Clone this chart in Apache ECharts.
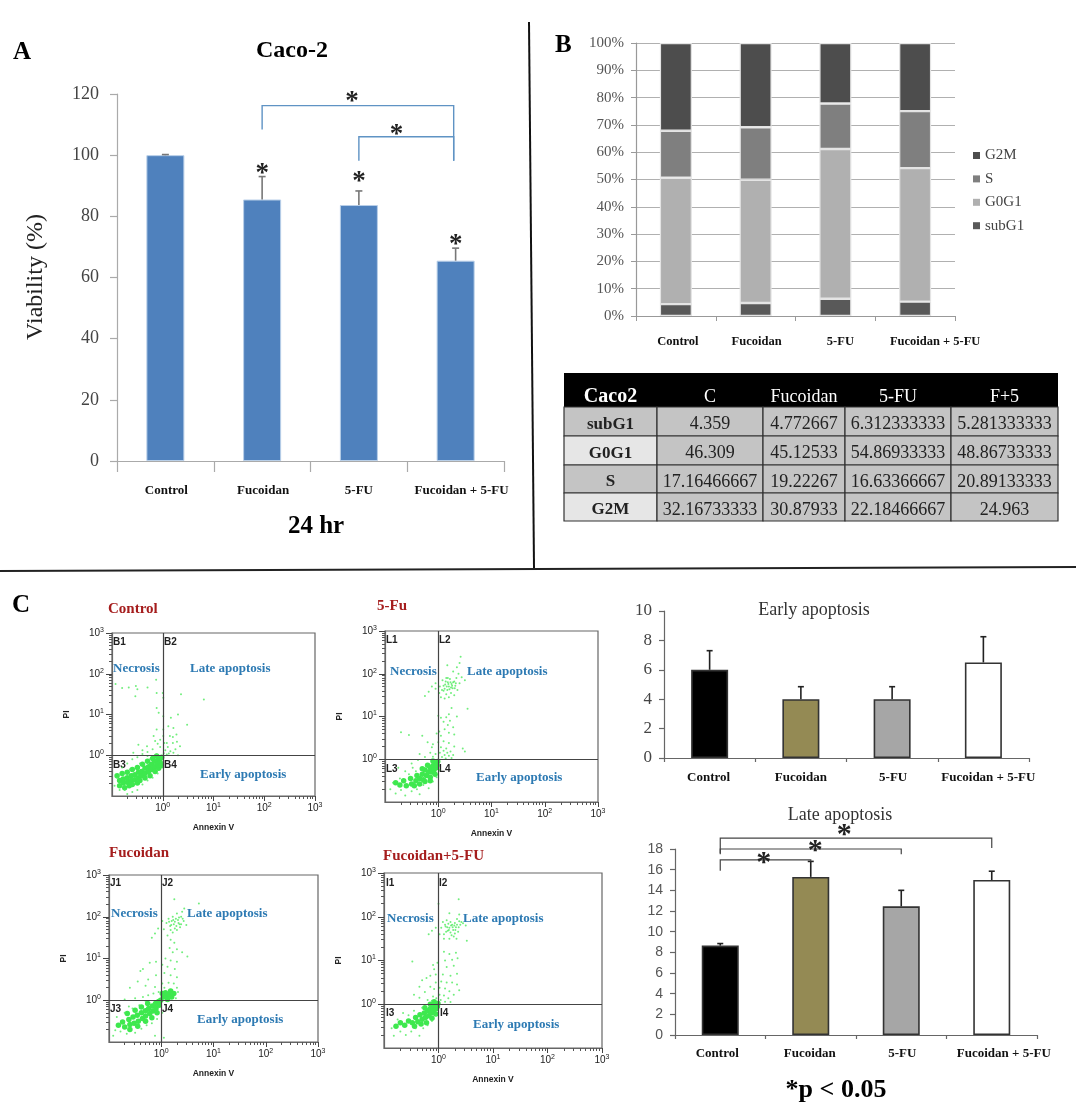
<!DOCTYPE html>
<html><head><meta charset="utf-8">
<style>html,body{margin:0;padding:0;background:#fff}#c{width:1076px;height:1114px}</style>
<script src="https://cdn.jsdelivr.net/npm/echarts@6/dist/echarts.min.js"></script>
</head><body><div id="c"></div>
<script>
// ---------- data ----------
const categories = ['Control', 'Fucoidan', '5-FU', 'Fucoidan + 5-FU'];
const viability = [100, 85.5, 83.7, 65.5];
const viabilityErrTop = [100.2, 93, 88.3, 69.6];
const earlyApoptosis = [6, 4, 4, 6.5];
const earlyErrTop = [7.3, 4.85, 4.85, 8.25];
const lateApoptosis = [8.65, 15.3, 12.45, 15];
const lateErrTop = [8.85, 16.8, 14, 15.85];
const subG1 = [4.359, 4.772667, 6.312333333, 5.281333333];
const G0G1 = [46.309, 45.12533, 54.86933333, 48.86733333];
const S = [17.16466667, 19.22267, 16.63366667, 20.89133333];
const G2M = [32.16733333, 30.87933, 22.18466667, 24.963];
const tableHead = ['Caco2', 'C', 'Fucoidan', '5-FU', 'F+5'];
const facsDecades = [0, 1, 2, 3];

const controlCore = [[-0.85,-0.62],[-0.78,-0.58],[-0.78,-0.68],[-0.7,-0.55],[-0.7,-0.66],[-0.62,-0.5],[-0.62,-0.62],[-0.55,-0.48],[-0.55,-0.6],[-0.48,-0.42],[-0.48,-0.55],[-0.42,-0.4],[-0.42,-0.5],[-0.35,-0.32],[-0.35,-0.45],[-0.28,-0.28],[-0.28,-0.4],[-0.22,-0.22],[-0.22,-0.35],[-0.16,-0.15],[-0.16,-0.28],[-0.1,-0.12],[-0.1,-0.22],[-0.05,-0.08],[-0.05,-0.18],[-0.02,-0.05],[-0.66,-0.75],[-0.5,-0.68],[-0.9,-0.5],[-0.8,-0.45],[-0.7,-0.42],[-0.6,-0.35],[-0.5,-0.3],[-0.4,-0.22],[-0.3,-0.15],[-0.2,-0.08],[-0.12,-0.02],[-0.85,-0.75],[-0.75,-0.8],[-0.6,-0.72],[-0.45,-0.62],[-0.35,-0.56],[-0.25,-0.5],[-0.15,-0.4],[-0.08,-0.32],[-0.03,-0.25]];
const controlDots = [[-0.93,1.75],[-0.8,1.65],[-0.67,1.66],[-0.53,1.7],[-0.5,1.62],[-0.54,1.45],[-0.3,1.66],[-0.13,1.85],[-0.12,1.53],[0,1.53],[0.01,1.41],[0.36,1.5],[0.81,1.37],[-0.12,1.16],[-0.08,1.04],[0.01,0.96],[0.16,0.92],[0.3,1.0],[0.48,0.75],[0.11,0.71],[0.21,0.67],[0.27,0.51],[0.01,0.63],[-0.12,0.63],[-0.18,0.47],[-0.48,0.26],[-0.58,0.06],[-0.31,0.22],[0.01,0.47],[0.14,0.47],[0.08,0.3],[0.21,0.06],[0.34,0.22],[0.2,0.3],[0.1,0.2],[0.05,0.12],[0.15,0.1],[0.25,0.15],[0.12,0.04],[0.3,0.0],[-0.05,0.2],[-0.1,0.28],[-0.2,0.15],[-0.3,0.08],[-0.4,0.12],[-0.15,0.35],[-0.05,0.38],[0.03,0.3],[0.2,0.45],[0.28,0.33],[-0.95,-0.75],[-0.9,-0.55],[-0.85,-0.85],[-0.75,-0.85],[-0.7,-0.95],[-0.6,-0.9],[-0.5,-0.85],[-0.4,-0.72],[-0.3,-0.62],[-0.2,-0.55],[-0.1,-0.45],[0,-0.3],[-0.8,-0.3],[-0.7,-0.2],[-0.6,-0.1],[-0.5,-0.05],[-0.4,0.03],[-0.3,-0.02],[-0.65,-0.35],[-0.45,-0.2],[-0.25,-0.1],[-0.12,0.02],[0.02,0.05],[0.08,0.02]];

const fuCore = [[-0.8,-0.55],[-0.72,-0.6],[-0.65,-0.5],[-0.6,-0.62],[-0.52,-0.45],[-0.5,-0.58],[-0.42,-0.5],[-0.4,-0.38],[-0.35,-0.45],[-0.3,-0.35],[-0.28,-0.48],[-0.25,-0.25],[-0.22,-0.38],[-0.18,-0.3],[-0.15,-0.2],[-0.15,-0.42],[-0.12,-0.3],[-0.1,-0.15],[-0.08,-0.25],[-0.05,-0.1],[-0.04,-0.2],[-0.01,-0.05],[-0.02,-0.14],[-0.3,-0.22],[-0.2,-0.14],[-0.1,-0.04],[-0.25,-0.52],[-0.15,-0.5],[-0.06,-0.35],[-0.45,-0.62],[-0.35,-0.58]];
const fuDots = [[0.03,1.7],[0.08,1.85],[0.1,1.6],[0.13,1.75],[0.15,1.9],[0.17,1.62],[0.18,1.8],[0.2,1.7],[0.22,1.88],[0.24,1.55],[0.25,1.76],[0.27,1.66],[0.3,1.82],[0.32,1.72],[0.34,1.9],[0.36,1.62],[0.38,2.0],[0.4,1.78],[0.44,1.92],[0.5,1.85],[0.35,2.15],[0.17,2.2],[0.4,2.25],[0.42,2.4],[0.28,2.05],[-0.05,1.65],[-0.12,1.7],[-0.18,1.58],[-0.25,1.48],[-0.05,1.78],[0.02,1.55],[0.05,1.45],[0.12,1.42],[0.2,1.45],[0.3,1.5],[0.55,1.18],[0.25,1.2],[0.2,1.05],[0.35,1.0],[0.15,0.98],[0.05,0.97],[0.0,1.02],[0.22,0.9],[0.1,0.88],[0.18,0.8],[0.28,0.75],[0.12,0.7],[0.02,0.65],[-0.03,0.6],[0.05,0.55],[0.2,0.62],[0.3,0.58],[-0.3,0.55],[-0.55,0.57],[-0.7,0.63],[-0.2,0.4],[-0.1,0.35],[-0.12,0.28],[0.0,0.4],[0.1,0.42],[0.2,0.38],[0.3,0.3],[0.46,0.25],[0.5,0.18],[0.03,0.15],[0.07,0.05],[0.1,0.2],[0.12,0.1],[0.14,0.02],[0.17,0.15],[0.2,0.08],[0.23,0.18],[0.25,0.03],[0.28,0.1],[0.05,0.28],[0.15,0.25],[-0.05,0.12],[-0.1,0.06],[-0.15,0.15],[-0.25,0.05],[-0.35,0.12],[-0.9,-0.7],[-0.85,-0.55],[-0.8,-0.8],[-0.72,-0.45],[-0.7,-0.72],[-0.62,-0.85],[-0.55,-0.35],[-0.5,-0.75],[-0.42,-0.28],[-0.4,-0.7],[-0.35,-0.82],[-0.28,-0.6],[-0.18,-0.68],[-0.1,-0.52],[-0.03,-0.42],[0.02,-0.25],[-0.75,-0.2],[-0.5,-0.1],[-0.38,-0.02],[-0.62,-0.28],[-0.48,-0.2],[0.1,1.72],[0.14,1.82],[0.16,1.7],[0.19,1.76],[0.21,1.64],[0.23,1.8],[0.26,1.72],[0.28,1.8],[0.31,1.66],[0.33,1.78],[0.12,1.65],[0.07,1.62],[0.18,1.9],[0.24,1.68],[0.15,1.52]];

const fucoidanCore = [[-0.82,-0.6],[-0.74,-0.52],[-0.7,-0.64],[-0.62,-0.46],[-0.6,-0.58],[-0.54,-0.4],[-0.52,-0.55],[-0.46,-0.36],[-0.44,-0.5],[-0.38,-0.3],[-0.36,-0.44],[-0.3,-0.25],[-0.3,-0.38],[-0.24,-0.2],[-0.22,-0.32],[-0.17,-0.14],[-0.16,-0.26],[-0.11,-0.08],[-0.1,-0.2],[-0.05,-0.03],[-0.04,-0.12],[-0.01,0.0],[0.04,0.08],[0.1,0.1],[0.15,0.14],[0.2,0.08],[0.24,0.16],[0.08,0.18],[0.18,0.22],[-0.65,-0.32],[-0.5,-0.24],[-0.38,-0.16],[-0.26,-0.08],[-0.6,-0.7],[-0.45,-0.62],[-0.3,-0.5],[-0.18,-0.42],[-0.08,-0.3],[0.12,0.02],[0.02,0.16]];
const fucoidanDots = [[0.1,1.85],[0.14,1.95],[0.17,1.78],[0.2,1.9],[0.22,2.0],[0.24,1.82],[0.26,1.72],[0.28,1.95],[0.3,2.08],[0.33,1.85],[0.36,1.75],[0.38,2.0],[0.4,2.12],[0.43,1.9],[0.48,1.8],[0.44,2.2],[0.25,2.42],[0.72,2.32],[0.05,1.7],[0.02,1.9],[-0.06,1.72],[-0.12,1.6],[-0.18,1.5],[0.12,1.55],[0.18,1.45],[0.25,1.38],[0.3,1.22],[0.16,1.25],[0.22,1.15],[0.4,1.15],[0.5,1.05],[0.08,1.0],[0.18,0.95],[0.3,0.92],[-0.1,0.92],[-0.22,0.9],[-0.35,0.75],[-0.4,0.7],[0.02,0.85],[0.12,0.8],[0.26,0.75],[0.06,0.65],[0.18,0.6],[0.3,0.55],[-0.1,0.6],[-0.25,0.5],[-0.45,0.45],[-0.6,0.3],[-0.3,0.35],[-0.12,0.32],[0.02,0.4],[0.14,0.42],[0.24,0.4],[0.3,0.3],[0.32,0.2],[0.28,0.05],[0.06,0.3],[-0.05,0.2],[-0.15,0.16],[-0.25,0.12],[-0.35,0.08],[-0.5,0.05],[-0.7,0.02],[-0.88,-0.72],[-0.92,-0.85],[-0.85,-0.4],[-0.78,-0.75],[-0.7,-0.3],[-0.66,-0.8],[-0.55,-0.2],[-0.5,-0.78],[-0.42,-0.12],[-0.38,-0.68],[-0.28,-0.6],[-0.18,-0.55],[-0.08,-0.45],[0.02,-0.3],[-0.12,-0.85],[0.05,-0.9],[-0.62,-0.15],[-0.3,-0.02],[0.15,1.88],[0.19,1.8],[0.23,1.92],[0.26,1.88],[0.29,1.78],[0.32,1.92],[0.35,1.82],[0.18,1.68],[0.22,1.62],[0.3,1.68],[0.34,1.98],[0.38,1.82],[0.41,1.95]];

const comboCore = [[-0.78,-0.5],[-0.7,-0.42],[-0.62,-0.48],[-0.55,-0.38],[-0.48,-0.42],[-0.42,-0.3],[-0.38,-0.4],[-0.34,-0.24],[-0.3,-0.34],[-0.26,-0.2],[-0.24,-0.3],[-0.2,-0.15],[-0.18,-0.26],[-0.15,-0.1],[-0.13,-0.2],[-0.1,-0.06],[-0.09,-0.15],[-0.05,-0.02],[-0.04,-0.1],[-0.01,0.02],[-0.02,-0.05],[-0.25,-0.08],[-0.15,0.0],[-0.08,0.06],[-0.32,-0.45],[-0.22,-0.42],[-0.12,-0.32],[-0.05,-0.22],[-0.44,-0.5]];
const comboDots = [[0.05,1.75],[0.08,1.88],[0.1,1.6],[0.13,1.78],[0.15,1.92],[0.17,1.68],[0.18,1.84],[0.2,1.75],[0.22,1.88],[0.24,1.58],[0.25,1.82],[0.27,1.7],[0.3,1.86],[0.32,1.76],[0.34,1.95],[0.36,1.66],[0.38,1.9],[0.4,1.82],[0.45,1.85],[0.5,1.8],[0.38,2.05],[0.2,2.08],[0.37,2.4],[0.0,2.3],[-0.05,1.75],[-0.12,1.68],[-0.18,1.6],[0.02,1.6],[0.28,1.55],[0.33,1.5],[0.52,1.45],[0.1,1.2],[0.2,1.15],[0.32,1.18],[0.35,1.05],[0.25,1.02],[0.12,1.0],[-0.02,0.95],[-0.1,0.9],[-0.08,0.8],[0.15,0.85],[0.28,0.88],[0.34,0.7],[0.22,0.65],[0.08,0.68],[-0.05,0.68],[-0.15,0.65],[-0.22,0.6],[-0.3,0.55],[-0.35,0.4],[-0.48,0.98],[-0.05,0.5],[0.05,0.52],[0.15,0.5],[0.25,0.5],[0.34,0.45],[0.38,0.32],[-0.15,0.4],[-0.08,0.35],[0.02,0.38],[0.12,0.36],[0.2,0.3],[0.28,0.22],[-0.25,0.28],[-0.35,0.15],[-0.45,0.22],[0.02,0.22],[0.1,0.2],[0.18,0.14],[0.04,0.1],[0.12,0.06],[0.22,0.05],[-0.04,0.14],[-0.1,0.18],[-0.12,0.08],[-0.2,0.1],[-0.86,-0.55],[-0.82,-0.72],[-0.75,-0.35],[-0.7,-0.62],[-0.6,-0.7],[-0.55,-0.25],[-0.5,-0.62],[-0.45,-0.15],[-0.42,-0.55],[-0.35,-0.72],[-0.3,-0.08],[-0.28,-0.55],[-0.2,-0.48],[-0.12,-0.38],[-0.04,-0.25],[-0.65,-0.2],[0.12,1.82],[0.16,1.76],[0.19,1.7],[0.23,1.8],[0.26,1.76],[0.29,1.8],[0.31,1.7],[0.34,1.82],[0.37,1.76],[0.42,1.88],[0.14,1.66],[0.22,1.64],[0.3,1.62],[0.1,1.5],[0.2,1.5]];

// ---------- fonts / layout ----------
const serifName = 'Liberation Serif', sansName = 'Liberation Sans';
const serif = '"Liberation Serif", serif', sans = '"Liberation Sans", sans-serif';
const fs = (family, size, weight) => ({fontFamily: family, fontSize: size, fontWeight: weight || 'normal'});
const axisLine = c => ({show: true, onZero: false, lineStyle: {color: c, width: 1.2}});
const grids = [], xAxes = [], yAxes = [], series = [], graphics = [];

function text(x, y, t, font, fill, align, rotation) {
  graphics.push({type: 'text', x, y, rotation: rotation || 0, silent: true,
    style: {text: t, font, fill: fill || '#000', align: align || 'left', verticalAlign: 'middle'}});
}
function line(x1, y1, x2, y2, w, c) {
  graphics.push({type: 'line', silent: true, shape: {x1, y1, x2, y2}, style: {stroke: c || '#111', lineWidth: w}});
}
function addGrid(box) {
  grids.push({left: box.l, top: box.t, width: box.r - box.l, height: box.b - box.t, show: !!box.frame,
    borderColor: box.frame || '#ccc', borderWidth: 1.2, backgroundColor: 'transparent'});
  return grids.length - 1;
}
// hidden value x axis running across the categories so annotations can sit between them
function overlayX(g) {
  xAxes.push({type: 'value', gridIndex: g, min: -0.5, max: 3.5, show: false});
  return xAxes.length - 1;
}
function errSeries(xi, yi, tops, bases, color, cap) {
  series.push({type: 'custom', xAxisIndex: xi, yAxisIndex: yi, z: 3, silent: true,
    data: tops.map((t, i) => [i, bases[i], t]),
    renderItem: (p, api) => {
      const a = api.coord([api.value(0), api.value(1)]), b = api.coord([api.value(0), api.value(2)]);
      const st = {stroke: color, lineWidth: 1.6, fill: 'none'};
      return {type: 'group', children: [
        {type: 'line', shape: {x1: a[0], y1: a[1], x2: b[0], y2: b[1]}, style: st},
        {type: 'line', shape: {x1: b[0] - cap, y1: b[1], x2: b[0] + cap, y2: b[1]}, style: st}]};
    }});
}
function bracketSeries(xi, yi, list, color, w) {
  series.push({type: 'custom', xAxisIndex: xi, yAxisIndex: yi, z: 4, silent: true, data: list,
    renderItem: (p, api) => {
      const l = api.value(0), r = api.value(1);
      const pts = [api.coord([l, api.value(2)]), api.coord([l, api.value(3)]), api.coord([r, api.value(3)]), api.coord([r, api.value(4)])];
      return {type: 'polyline', shape: {points: pts}, style: {stroke: color, lineWidth: w, fill: 'none'}};
    }});
}
function starSeries(xi, yi, list, size, color) {
  series.push({type: 'custom', xAxisIndex: xi, yAxisIndex: yi, z: 5, silent: true, data: list,
    renderItem: (p, api) => {
      const c = api.coord([api.value(0), api.value(1)]);
      return {type: 'text', style: {x: c[0], y: c[1] + size * 0.2, text: '*', fill: color,
        font: `bold ${size}px ${serif}`, align: 'center', verticalAlign: 'middle'}};
    }});
}
function shiftedLabels(shifts, size) {
  const rich = {};
  shifts.forEach((s, i) => {
    rich['s' + i] = Object.assign(fs(serifName, size, 'bold'), {color: '#111', padding: s >= 0 ? [0, 0, 0, 2 * s] : [0, -2 * s, 0, 0]});
  });
  return Object.assign(fs(serifName, size, 'bold'), {show: true, interval: 0, rich, hideOverlap: false,
    formatter: (v) => `{s${categories.indexOf(v)}|${v}}`});
}
function barChart(box, values, colors, opt) {
  const g = addGrid(box);
  xAxes.push({type: 'category', gridIndex: g, data: categories, position: 'bottom',
    axisLine: axisLine(opt.axisColor), axisTick: {show: true, length: opt.catTick, lineStyle: {color: opt.axisColor, width: 1.2}},
    axisLabel: Object.assign(shiftedLabels(opt.shifts, opt.catSize), {margin: opt.catMargin})});
  const xi = xAxes.length - 1;
  yAxes.push({type: 'value', gridIndex: g, min: 0, max: opt.max, interval: opt.interval, splitLine: {show: false}, position: 'left',
    axisLine: axisLine(opt.axisColor), axisTick: {show: true, length: opt.valTick, lineStyle: {color: opt.axisColor, width: 1.2}},
    axisLabel: Object.assign({}, opt.valFont, {color: opt.valColor, margin: opt.valMargin})});
  const yi = yAxes.length - 1;
  series.push({type: 'bar', xAxisIndex: xi, yAxisIndex: yi, barWidth: opt.barWidth, z: 2, silent: true,
    data: values.map((v, i) => ({value: v, itemStyle: {color: colors[i], borderColor: opt.barBorder, borderWidth: opt.barBorderW}}))});
  const ox = overlayX(g);
  errSeries(ox, yi, opt.errTop, values, opt.errColor, opt.cap);
  return {ox, yi};
}

// ---------- Panel A ----------
const pA = barChart({l: 117, r: 504, t: 94, b: 461}, viability, ['#4f81bd', '#4f81bd', '#4f81bd', '#4f81bd'], {
  max: 120, interval: 20, axisColor: '#aaa', catTick: 11, valTick: 7, valMargin: 18, catMargin: 23, catSize: 13,
  shifts: [1, 1, 0, 6], valFont: fs(serifName, 18), valColor: '#444', barWidth: 38, barBorder: '#b8cfe8', barBorderW: 1,
  errTop: viabilityErrTop, errColor: '#777', cap: 3.5});
bracketSeries(pA.ox, pA.yi, [[1, 2.98, 108.4, 116.2, 98.2], [2, 2.98, 98.2, 106, 98.2]], '#5f93c4', 1.4);
starSeries(pA.ox, pA.yi, [[1, 95.5], [2, 93], [3, 72.5], [1.93, 119], [2.39, 108.5]], 27, '#222');

// ---------- Panel B ----------
const gB = addGrid({l: 636, r: 955, t: 43, b: 316});
xAxes.push({type: 'category', gridIndex: gB, data: categories, position: 'bottom',
  axisLine: axisLine('#999'), axisTick: {show: true, length: 5, lineStyle: {color: '#999'}},
  axisLabel: Object.assign(shiftedLabels([2, 1, 5, 20], 12.5), {margin: 19})});
yAxes.push({type: 'value', gridIndex: gB, min: 0, max: 100, interval: 10, position: 'left',
  splitLine: {show: true, lineStyle: {color: '#b0b0b0', width: 1.2}},
  axisLine: axisLine('#999'), axisTick: {show: true, length: 5, lineStyle: {color: '#999'}},
  axisLabel: Object.assign(fs(serifName, 15), {color: '#555', margin: 12, formatter: '{value}%'})});
const xB = xAxes.length - 1, yB = yAxes.length - 1;
[['subG1', subG1, '#595959'], ['G0G1', G0G1, '#b0b0b0'], ['S', S, '#7f7f7f'], ['G2M', G2M, '#4d4d4d']].forEach(([name, data, color]) => {
  series.push({type: 'bar', name, stack: 'cycle', data, xAxisIndex: xB, yAxisIndex: yB, barWidth: 32, z: 2, silent: true,
    itemStyle: {color, borderColor: '#e4e4e4', borderWidth: 1.2}});
});

// ---------- Table ----------
const colX = [564, 657, 763, 845, 951, 1058], rowY = [373, 407, 436, 465, 493, 521];
const tableRows = [['subG1', subG1], ['G0G1', G0G1], ['S', S], ['G2M', G2M]];
graphics.push({type: 'rect', silent: true, shape: {x: colX[0], y: rowY[0], width: colX[5] - colX[0], height: rowY[1] - rowY[0]}, style: {fill: '#000'}});
tableHead.forEach((h, c) => {
  const cx = (colX[c] + colX[c + 1]) / 2;
  text(cx, 397, h, c === 0 ? `bold 20px ${serif}` : `18px ${serif}`, '#fff', 'center');
});
tableRows.forEach(([name, vals], r) => {
  const y = rowY[r + 1], h = rowY[r + 2] - y;
  for (let c = 0; c < 5; c++) {
    const fill = c === 0 && r % 2 === 1 ? '#e6e6e6' : '#c4c4c4';
    graphics.push({type: 'rect', silent: true, shape: {x: colX[c], y, width: colX[c + 1] - colX[c], height: h},
      style: {fill, stroke: '#333', lineWidth: 1.2}});
    const t = c === 0 ? name : String(vals[c - 1]);
    text((colX[c] + colX[c + 1]) / 2, y + h / 2 + 3, t, c === 0 ? `bold 17px ${serif}` : `18px ${serif}`, '#222', 'center');
  }
});

// ---------- FACS panels ----------
const minorPositions = [];
for (let k = -1; k < 3; k++) for (let m = 2; m < 10; m++) minorPositions.push(k + Math.log10(m));
function facs(box, title, code, core, dots, t) {
  const g = addGrid(Object.assign({frame: '#666'}, box));
  const labelRich = {b: Object.assign(fs(sansName, 10), {color: '#222'}), s: Object.assign(fs(sansName, 7), {color: '#222', padding: [0, 0, 6, 0]})};
  const fmt = v => `{b|10}{s|${v}}`;
  const nameStyle = Object.assign(fs(sansName, 8.5, 'bold'), {color: '#222'});
  xAxes.push({type: 'value', gridIndex: g, min: -1, max: 3, position: 'bottom',
    name: 'Annexin V', nameLocation: 'middle', nameGap: 27, nameTextStyle: nameStyle,
    splitLine: {show: false}, axisLine: axisLine('#666'),
    axisTick: {show: true, customValues: facsDecades, length: 5, lineStyle: {color: '#444'}},
    axisLabel: {customValues: facsDecades, formatter: fmt, rich: labelRich, margin: 6, hideOverlap: false, showMaxLabel: true}});
  const xi = xAxes.length - 1;
  yAxes.push({type: 'value', gridIndex: g, min: -1, max: 3, position: 'left',
    name: 'PI', nameLocation: 'middle', nameGap: 41, nameTextStyle: nameStyle,
    splitLine: {show: false}, axisLine: axisLine('#666'),
    axisTick: {show: true, customValues: facsDecades, length: 6, lineStyle: {color: '#444'}},
    axisLabel: {customValues: facsDecades, formatter: fmt, rich: labelRich, margin: 8, showMaxLabel: true}});
  const yi = yAxes.length - 1;
  xAxes.push({type: 'value', gridIndex: g, min: -1, max: 3, position: 'bottom', axisLine: {show: false, onZero: false}, splitLine: {show: false}, axisLabel: {show: false},
    axisTick: {show: true, customValues: minorPositions, length: 3, lineStyle: {color: '#555'}}});
  yAxes.push({type: 'value', gridIndex: g, min: -1, max: 3, position: 'left', axisLine: {show: false, onZero: false}, splitLine: {show: false}, axisLabel: {show: false},
    axisTick: {show: true, customValues: minorPositions, length: 3, lineStyle: {color: '#555'}}});
  series.push({type: 'scatter', xAxisIndex: xi, yAxisIndex: yi, data: core, symbolSize: 5.5, silent: true, z: 2,
    itemStyle: {color: '#3ee84e', opacity: 1}});
  series.push({type: 'scatter', xAxisIndex: xi, yAxisIndex: yi, data: dots, symbolSize: 2, silent: true, z: 3,
    itemStyle: {color: '#4dea5c'},
    markLine: {silent: true, symbol: 'none', label: {show: false}, animation: false,
      lineStyle: {color: '#444', width: 1.2, type: 'solid'}, data: [{xAxis: 0}, {yAxis: 0}]}});
  const blue = '#2d7ab3', bl = `bold 13px ${serif}`, tag = `bold 10px ${sans}`;
  text(t.title[0], t.title[1], title, `bold 15px ${serif}`, '#a51d1d');
  text(t.nec[0], t.nec[1], 'Necrosis', bl, blue);
  text(t.late[0], t.late[1], 'Late apoptosis', bl, blue);
  text(t.early[0], t.early[1], 'Early apoptosis', bl, blue);
  [1, 2, 3, 4].forEach((n, i) => text(t.tags[i][0], t.tags[i][1], code + n, tag, '#222'));
}
facs({l: 112, r: 315, t: 633, b: 796}, 'Control', 'B', controlCore, controlDots,
  {title: [108, 609], nec: [113, 669], late: [190, 669], early: [200, 775], tags: [[113, 642], [164, 642], [113, 765], [164, 765]]});
facs({l: 385, r: 598, t: 631, b: 802}, '5-Fu', 'L', fuCore, fuDots,
  {title: [377, 606], nec: [390, 672], late: [467, 672], early: [476, 778], tags: [[386, 640], [439, 640], [386, 769], [439, 769]]});
facs({l: 109, r: 318, t: 875, b: 1042}, 'Fucoidan', 'J', fucoidanCore, fucoidanDots,
  {title: [109, 853], nec: [111, 914], late: [187, 914], early: [197, 1020], tags: [[110, 883], [162, 883], [110, 1009], [162, 1009]]});
facs({l: 384, r: 602, t: 873, b: 1048}, 'Fucoidan+5-FU', 'I', comboCore, comboDots,
  {title: [383, 856], nec: [387, 919], late: [463, 919], early: [473, 1025], tags: [[386, 883], [439, 883], [386, 1013], [440, 1013]]});

// ---------- Early / late apoptosis ----------
const barColors = ['#000000', '#948a54', '#a6a6a6', '#ffffff'];
barChart({l: 664, r: 1029, t: 611, b: 758}, earlyApoptosis, barColors, {
  max: 10, interval: 2, axisColor: '#666', catTick: 4, valTick: 5, valMargin: 12, catMargin: 13, catSize: 13,
  shifts: [-1, 0, 1, 5], valFont: fs(serifName, 17), valColor: '#444', barWidth: 37, barBorder: '#333', barBorderW: 1.6,
  errTop: earlyErrTop, errColor: '#222', cap: 3});
const pL = barChart({l: 675, r: 1037, t: 849, b: 1035}, lateApoptosis, barColors, {
  max: 18, interval: 2, axisColor: '#666', catTick: 4, valTick: 5, valMargin: 12, catMargin: 12, catSize: 13,
  shifts: [-3, -1, 1, 12], valFont: fs(sansName, 14), valColor: '#555', barWidth: 37, barBorder: '#333', barBorderW: 1.6,
  errTop: lateErrTop, errColor: '#222', cap: 3});
bracketSeries(pL.ox, pL.yi, [[0, 3, 17.6, 19.05, 18.1], [0, 2, 17.5, 18, 17.5], [0, 1, 15.9, 16.95, 16.8]], '#444', 1.2);
starSeries(pL.ox, pL.yi, [[1.37, 19.9], [1.05, 18.4], [0.48, 17.2]], 30, '#222');

// ---------- Free text ----------
text(13, 53, 'A', `bold 25px ${serif}`);
text(555, 46, 'B', `bold 25px ${serif}`);
text(12, 606, 'C', `bold 25px ${serif}`);
text(292, 51, 'Caco-2', `bold 24px ${serif}`, '#000', 'center');
text(36, 277, 'Viability (%)', `24px ${serif}`, '#222', 'center', Math.PI / 2);
text(316, 527, '24 hr', `bold 25px ${serif}`, '#000', 'center');
text(814, 610, 'Early apoptosis', `18px ${serif}`, '#333', 'center');
text(840, 815, 'Late apoptosis', `18px ${serif}`, '#333', 'center');
text(836, 1090, '*p < 0.05', `bold 26px ${serif}`, '#000', 'center');
line(529, 22, 534, 568, 2);
line(0, 571, 1076, 567, 2, '#222');

const chart = echarts.init(document.getElementById('c'), null, {renderer: 'canvas', width: 1076, height: 1114});
chart.setOption({
  animation: false, backgroundColor: '#fff',
  grid: grids, xAxis: xAxes, yAxis: yAxes, series, graphic: graphics,
  legend: {orient: 'vertical', left: 973, top: 148, padding: 0, itemWidth: 7, itemHeight: 7, itemGap: 8.4, icon: 'rect',
    itemStyle: {borderWidth: 0}, data: ['G2M', 'S', 'G0G1', 'subG1'],
    textStyle: Object.assign(fs(serifName, 15), {color: '#444'}), selectedMode: false}
});
</script></body></html>
